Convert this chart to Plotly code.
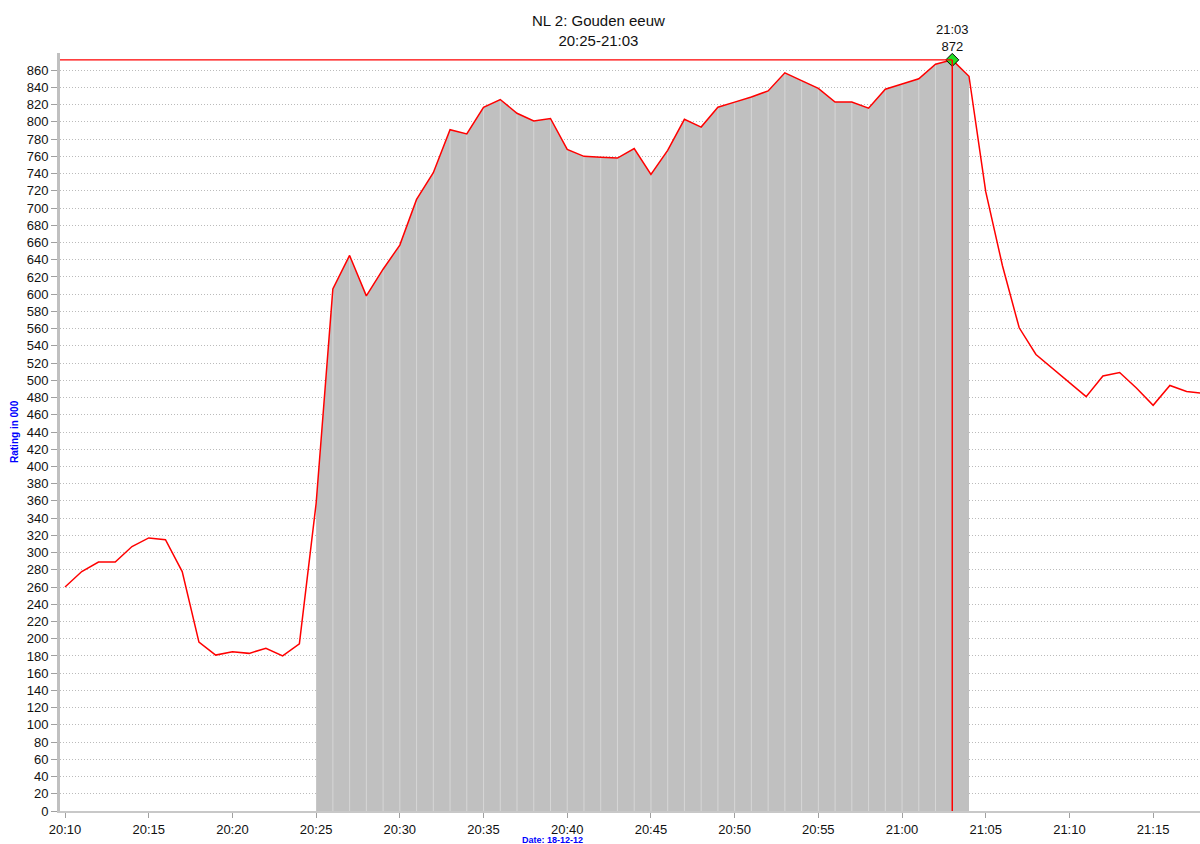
import plotly.graph_objects as go
import pandas as pd

# ---- data ----
start_time = "2012-12-18 20:10"
ratings = [260, 278, 289, 289, 307, 317, 315, 278, 196, 181,
           185, 183, 189, 180, 194, 357, 606, 645, 598, 629,
           657, 710, 741, 791, 786, 817, 826, 810, 801, 804,
           768, 760, 759, 758, 769, 739, 767, 803, 794, 817,
           823, 829, 836, 857, 848, 839, 823, 823, 816, 838,
           844, 850, 867, 872, 853, 719, 633, 561, 530, 514,
           497, 481, 505, 509, 491, 471, 494, 487, 485]
program_start = "2012-12-18 20:25"
program_end = "2012-12-18 21:04"
peak_time = "2012-12-18 21:03"
peak_value = 872
title_lines = ["NL 2: Gouden eeuw", "20:25-21:03"]
x_title = "Date: 18-12-12"
y_title = "Rating in 000"
x_range = ["2012-12-18 20:09:42", "2012-12-18 21:17:48"]
y_ticks = list(range(0, 861, 20))

times = pd.date_range(start_time, periods=len(ratings), freq="1min")
s = pd.Series(ratings, index=times)
prog = s[program_start:program_end]

FONT = "Liberation Sans, Arial, sans-serif"

fig = go.Figure()

# filled program area
fig.add_trace(go.Scatter(x=prog.index, y=prog.values, mode="lines",
                         line=dict(width=0), fill="tozeroy",
                         fillcolor="#C0C0C0", hoverinfo="skip", showlegend=False))

# per-minute separators inside the fill
sx, sy = [], []
for t, v in prog.iloc[1:-1].items():
    sx += [t, t, None]
    sy += [0, v, None]
fig.add_trace(go.Scatter(x=sx, y=sy, mode="lines",
                         line=dict(color="#D6D6D6", width=1),
                         hoverinfo="skip", showlegend=False))

# rating line
fig.add_trace(go.Scatter(x=s.index, y=s.values, mode="lines",
                         line=dict(color="#FF0000", width=1.5),
                         showlegend=False))

# peak lines
fig.add_shape(type="line", xref="x", yref="y",
              x0=x_range[0], x1=peak_time, y0=peak_value, y1=peak_value,
              line=dict(color="#FF0000", width=1.2))
fig.add_shape(type="line", xref="x", yref="y",
              x0=peak_time, x1=peak_time, y0=0, y1=peak_value,
              line=dict(color="#FF0000", width=1.5))

# peak marker
fig.add_trace(go.Scatter(x=[pd.Timestamp(peak_time)], y=[peak_value], mode="markers",
                         marker=dict(symbol="diamond", size=10, color="#22DD22",
                                     line=dict(color="#000000", width=1)),
                         showlegend=False, cliponaxis=False))

fig.add_annotation(x=peak_time, y=peak_value, xref="x", yref="y",
                   text=pd.Timestamp(peak_time).strftime("%H:%M") + "<br>" + str(peak_value),
                   showarrow=False, yshift=22,
                   font=dict(family=FONT, size=13, color="#111111"))

fig.add_annotation(x=(598 - 60) / 1140, y=1.0, xref="paper", yref="paper",
                   xanchor="center", yanchor="bottom",
                   text="<br>".join(title_lines), showarrow=False, yshift=2,
                   font=dict(family=FONT, size=15, color="#111111"))

fig.add_annotation(x=(552 - 60) / 1140, y=0, xref="paper", yref="paper",
                   xanchor="center", yanchor="middle", yshift=-29,
                   text="<b>" + x_title + "</b>", showarrow=False,
                   font=dict(family=FONT, size=9, color="#0000FF"))

fig.add_annotation(x=0, y=(811 - 432) / 758, xref="paper", yref="paper",
                   xanchor="center", yanchor="middle", xshift=-46,
                   text="<b>" + y_title + "</b>", textangle=-90, showarrow=False,
                   font=dict(family=FONT, size=10, color="#0000FF"))

fig.update_layout(
    width=1200, height=844,
    margin=dict(l=60, r=0, t=53, b=33),
    plot_bgcolor="white", paper_bgcolor="white",
    font=dict(family=FONT, size=13, color="#111111"),
    xaxis=dict(range=x_range, type="date", tickformat="%H:%M", dtick=300000,
               tick0="2012-12-18 20:10", showgrid=False, zeroline=False,
               showline=True, linecolor="#C8C8C8", linewidth=2,
               ticks="outside", ticklen=5, tickcolor="#A0A0A0",
               tickfont=dict(size=13)),
    yaxis=dict(range=[0, 880], tickvals=y_ticks, showgrid=True,
               gridcolor="#BBBBBB", griddash="1px,2px", gridwidth=1,
               zeroline=False, showline=True, linecolor="#C0C0C0", linewidth=3,
               ticks="outside", ticklen=6, tickcolor="#A0A0A0",
               tickfont=dict(size=13)),
)

fig.write_html("out.html", config={"displayModeBar": False},
               post_script="document.body.style.margin='0';document.body.style.overflow='hidden';")
